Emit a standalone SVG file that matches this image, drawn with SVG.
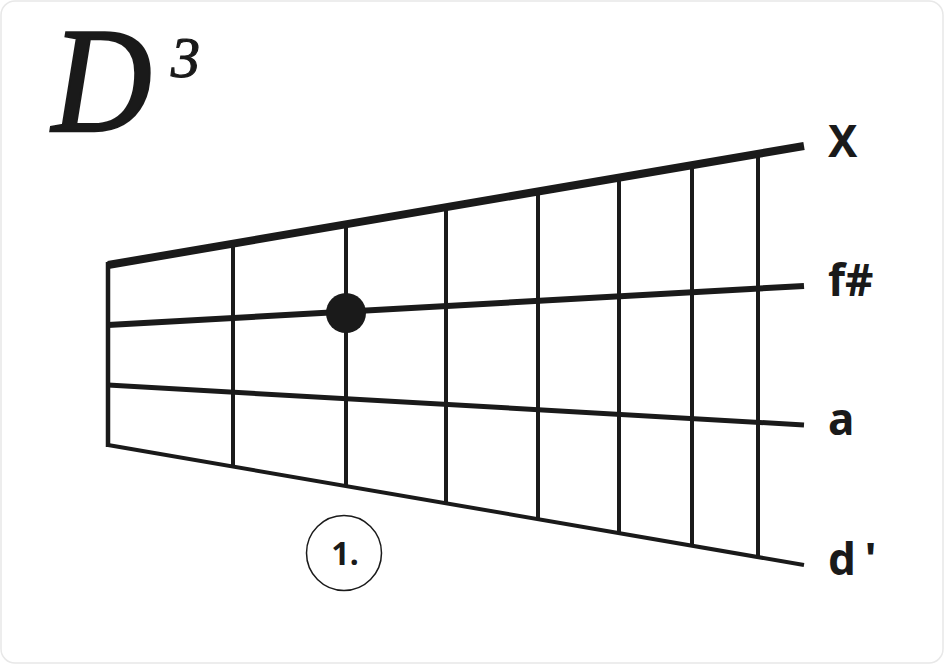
<svg xmlns="http://www.w3.org/2000/svg" width="944" height="664" viewBox="0 0 944 664">
<style>
.ln{stroke:#1a1a1a;fill:none;stroke-linecap:butt}
.fr{stroke:#1a1a1a;stroke-width:4}
.lbl{font-family:"Noto Sans","Open Sans",sans-serif;font-weight:bold;font-size:44px;fill:#1a1a1a}
.ttl{font-family:"Liberation Serif","DejaVu Serif",serif;font-style:italic;fill:#1a1a1a;stroke:#1a1a1a}
</style>
<rect x="1" y="1" width="942" height="662" rx="14" fill="#fff" stroke="#e8e8e8" stroke-width="1.5"/>
<g id="title">
<text class="ttl" transform="translate(52,131) scale(0.92,1)" x="0" y="0" font-size="150" stroke-width="2.5">D</text>
<text class="ttl" x="171" y="77" font-size="58" stroke-width="1.2">3</text>
</g>
<g id="connectors">
<line class="fr" x1="233" y1="243.6" x2="233" y2="466.6"/>
<line class="fr" x1="346" y1="224.3" x2="346" y2="486"/>
<line class="fr" x1="446" y1="207.2" x2="446" y2="503.2"/>
<line class="fr" x1="538" y1="191.5" x2="538" y2="519.1"/>
<line class="fr" x1="619" y1="177.6" x2="619" y2="533.1"/>
<line class="fr" x1="692" y1="165.1" x2="692" y2="545.7"/>
<line class="fr" x1="758" y1="153.8" x2="758" y2="557"/>
<line class="ln" x1="108" y1="265" x2="804" y2="146" stroke-width="8"/>
<line class="ln" x1="108" y1="325" x2="804" y2="286" stroke-width="6"/>
<line class="ln" x1="108" y1="385" x2="804" y2="425" stroke-width="5"/>
<line class="ln" x1="108" y1="445" x2="804" y2="565" stroke-width="4"/>
<line class="ln" x1="108" y1="262" x2="108" y2="447" stroke-width="4.5"/>
</g>
<g id="dot"><circle cx="346" cy="313" r="20" fill="#1a1a1a"/></g>
<g id="labels">
<text class="lbl" x="828" y="157">X</text>
<text class="lbl" x="828" y="296">f#</text>
<text class="lbl" x="828" y="435">a</text>
<text class="lbl" x="828" y="575" letter-spacing="9">d'</text>
</g>
<g id="finger">
<circle cx="344" cy="553" r="37.5" fill="#fff" stroke="#1a1a1a" stroke-width="1.5"/>
<text x="345" y="565" text-anchor="middle" font-family="Noto Sans, Open Sans, sans-serif" font-weight="bold" font-size="32" fill="#1a1a1a">1.</text>
</g>
</svg>
